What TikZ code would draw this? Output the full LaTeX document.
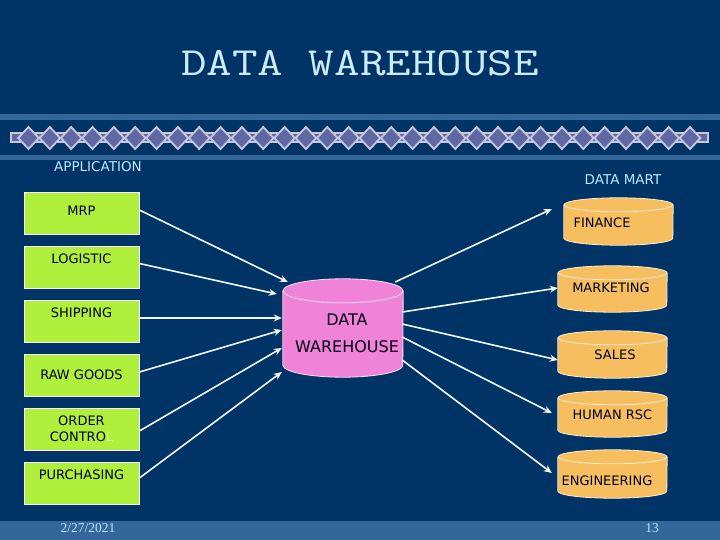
\documentclass[tikz,border=0pt]{standalone}
\usepackage{fontspec}
\setmainfont{DejaVu Sans}
\newfontfamily\datefont{Liberation Serif}
\usetikzlibrary{arrows.meta,calc}

\definecolor{slidebg}{RGB}{0,51,102}
\definecolor{slideband}{RGB}{51,102,153}
\definecolor{titlecyan}{RGB}{204,236,255}
\definecolor{headcyan}{RGB}{190,232,255}
\definecolor{appgreen}{RGB}{175,240,60}
\definecolor{dwpink}{RGB}{240,130,215}
\definecolor{martorange}{RGB}{246,190,94}
\definecolor{stripfill}{RGB}{96,104,164}
\definecolor{stripline}{RGB}{200,200,220}
\definecolor{arrowwhite}{RGB}{240,248,255}

\tikzset{
  appbox/.style={draw=white, line width=0.8pt, fill=appgreen, minimum width=115pt,
    minimum height=42pt, inner sep=0pt, font=\fontsize{13}{16}\selectfont, text=black!90!blue},
  cylbox/.style={inner sep=0pt, minimum width=#1},
  cyltext/.style={inner sep=0pt, font=\fontsize{13}{16}\selectfont, text=black!90!blue},
  headtext/.style={inner sep=0pt, text=headcyan, font=\fontsize{13.5}{16}\selectfont},
  foottext/.style={inner sep=0pt, text=headcyan, font=\datefont\fontsize{13.5}{16}\selectfont},
  flow/.style={draw=arrowwhite, line width=1.6pt, -{Stealth[length=8pt,width=7pt]}},
  cylline/.style={draw=white!75!#1, line width=0.8pt}
}

% cylinder drawn from the anchors of an empty node
\newcommand{\drawcyl}[4]{% #1 node, #2 half width, #3 ellipse half height, #4 colour
  \fill[#4] ($(#1.north west)+(0,#3)$) rectangle ($(#1.south east)+(0,-#3)$);
  \fill[#4] ($(#1.south)+(0,-#3)$) ellipse [x radius=#2, y radius=#3];
  \draw[cylline=#4] ($(#1.north west)+(0,#3)$) -- ($(#1.south west)+(0,-#3)$)
    arc [start angle=180, end angle=0, x radius=#2, y radius=#3] -- ($(#1.north east)+(0,#3)$);
  \filldraw[fill=#4, cylline=#4] ($(#1.north)+(0,#3)$) ellipse [x radius=#2, y radius=#3];
}

\begin{document}
\begin{tikzpicture}[x=1pt,y=-1pt]
  \fill[slidebg] (0,0) rectangle (720,540);
  \useasboundingbox (0,0) rectangle (720,540);

  % bands and diamond strip
  \fill[slideband] (0,114) rectangle (720,120);
  \fill[slideband] (0,155) rectangle (720,160);
  \fill[slideband] (0,521) rectangle (720,540);
  \filldraw[fill=stripfill, draw=stripline, line width=2.4pt] (11,133) rectangle (708,142);
  \foreach \i in {0,...,31} {
    \filldraw[fill=stripfill, draw=stripline, line width=1.8pt]
      (28.5+21.34*\i,127) -- ++(10.3,11) -- ++(-10.3,11) -- ++(-10.3,-11) -- cycle;
  }

  \node[inner sep=0pt, text=titlecyan, font=\ttfamily\fontsize{40}{44}\selectfont]
    (title) at (360,63) {\scalebox{1.24}[1]{DATA WAREHOUSE}};
  \node[headtext] (app) at (98,167) {APPLICATION};
  \node[headtext] (mart) at (623,180) {DATA MART};

  % applications
  \node[appbox, text depth=4pt] (mrp) at (81.5,213) {MRP};
  \node[appbox, text depth=17pt] (logistic) at (81.5,267) {LOGISTIC};
  \node[appbox, text depth=16pt] (shipping) at (81.5,321) {SHIPPING};
  \node[appbox] (raw) at (81.5,375) {RAW GOODS};
  \node[appbox, align=center] (order) at (81.5,429) {ORDER\\CONTRO{\color{appgreen!55!white}L}};
  \node[appbox, text depth=16pt] (purch) at (81.5,483) {PURCHASING};

  % warehouse and data marts
  \node[cylbox=120pt, minimum height=98pt] (dw) at (343,328) {};
  \node[cylbox=109pt, minimum height=47pt] (fin) at (618.5,221.5) {};
  \node[cylbox=109pt, minimum height=46pt] (mkt) at (612.5,289) {};
  \node[cylbox=109pt, minimum height=47pt] (sales) at (612.5,354.5) {};
  \node[cylbox=109pt, minimum height=46pt] (hr) at (612.5,414) {};
  \node[cylbox=109pt, minimum height=48pt] (eng) at (612.5,474) {};
  \drawcyl{dw}{60}{12}{dwpink}
  \foreach \c in {fin,mkt,sales,hr,eng} {\drawcyl{\c}{54.5}{7}{martorange}}

  \node[cyltext, font=\fontsize{16}{27}\selectfont, align=center] (dw-l)
    at ([xshift=4pt,yshift=-5.5pt]dw.center) {DATA\\WAREHOUSE};
  \node[cyltext] (fin-l) at ([xshift=-16.5pt,yshift=-1.5pt]fin.center) {FINANCE};
  \node[cyltext] (mkt-l) at ([xshift=-1.5pt,yshift=1pt]mkt.center) {MARKETING};
  \node[cyltext] (sales-l) at ([xshift=2.5pt]sales.center) {SALES};
  \node[cyltext] (hr-l) at ([yshift=-1pt]hr.center) {HUMAN RSC};
  \node[cyltext] (eng-l) at ([xshift=-5.5pt,yshift=-7pt]eng.center) {ENGINEERING};

  % into the warehouse
  \draw[flow] ([yshift=3pt]mrp.east) -- ($(dw.west)+(5,-46)$);
  \draw[flow] ([yshift=3.5pt]logistic.east) -- ($(dw.west)+(-6,-34)$);
  \draw[flow] ([yshift=3pt]shipping.east) -- ($(dw.west)+(-1,-10)$);
  \draw[flow] ([yshift=3pt]raw.east) -- ($(dw.west)+(-1,2)$);
  \draw[flow] ([yshift=-2pt]order.east) -- ($(dw.west)+(-1,20)$);
  \draw[flow] ([yshift=5pt]purch.east) -- ($(dw.west)+(-1,44)$);

  % out to the marts
  \draw[flow] ($(dw.east)+(-8,-46)$) -- ($(fin.west)+(-12,-12.5)$);
  \draw[flow] ($(dw.east)+(-1,-16)$) -- ($(mkt.west)+(0,-1)$);
  \draw[flow] ($(dw.east)+(-1,-4)$) -- ($(sales.west)+(0,5.5)$);
  \draw[flow] ($(dw.east)+(-1,9)$) -- ($(hr.west)+(-6,-1)$);
  \draw[flow] ($(dw.east)+(-1,32)$) -- ($(eng.west)+(-6,-1)$);

  \node[foottext] (date) at (88,528) {2/27/2021};
  \node[foottext] (page) at (652,528) {13};
\end{tikzpicture}
\end{document}
